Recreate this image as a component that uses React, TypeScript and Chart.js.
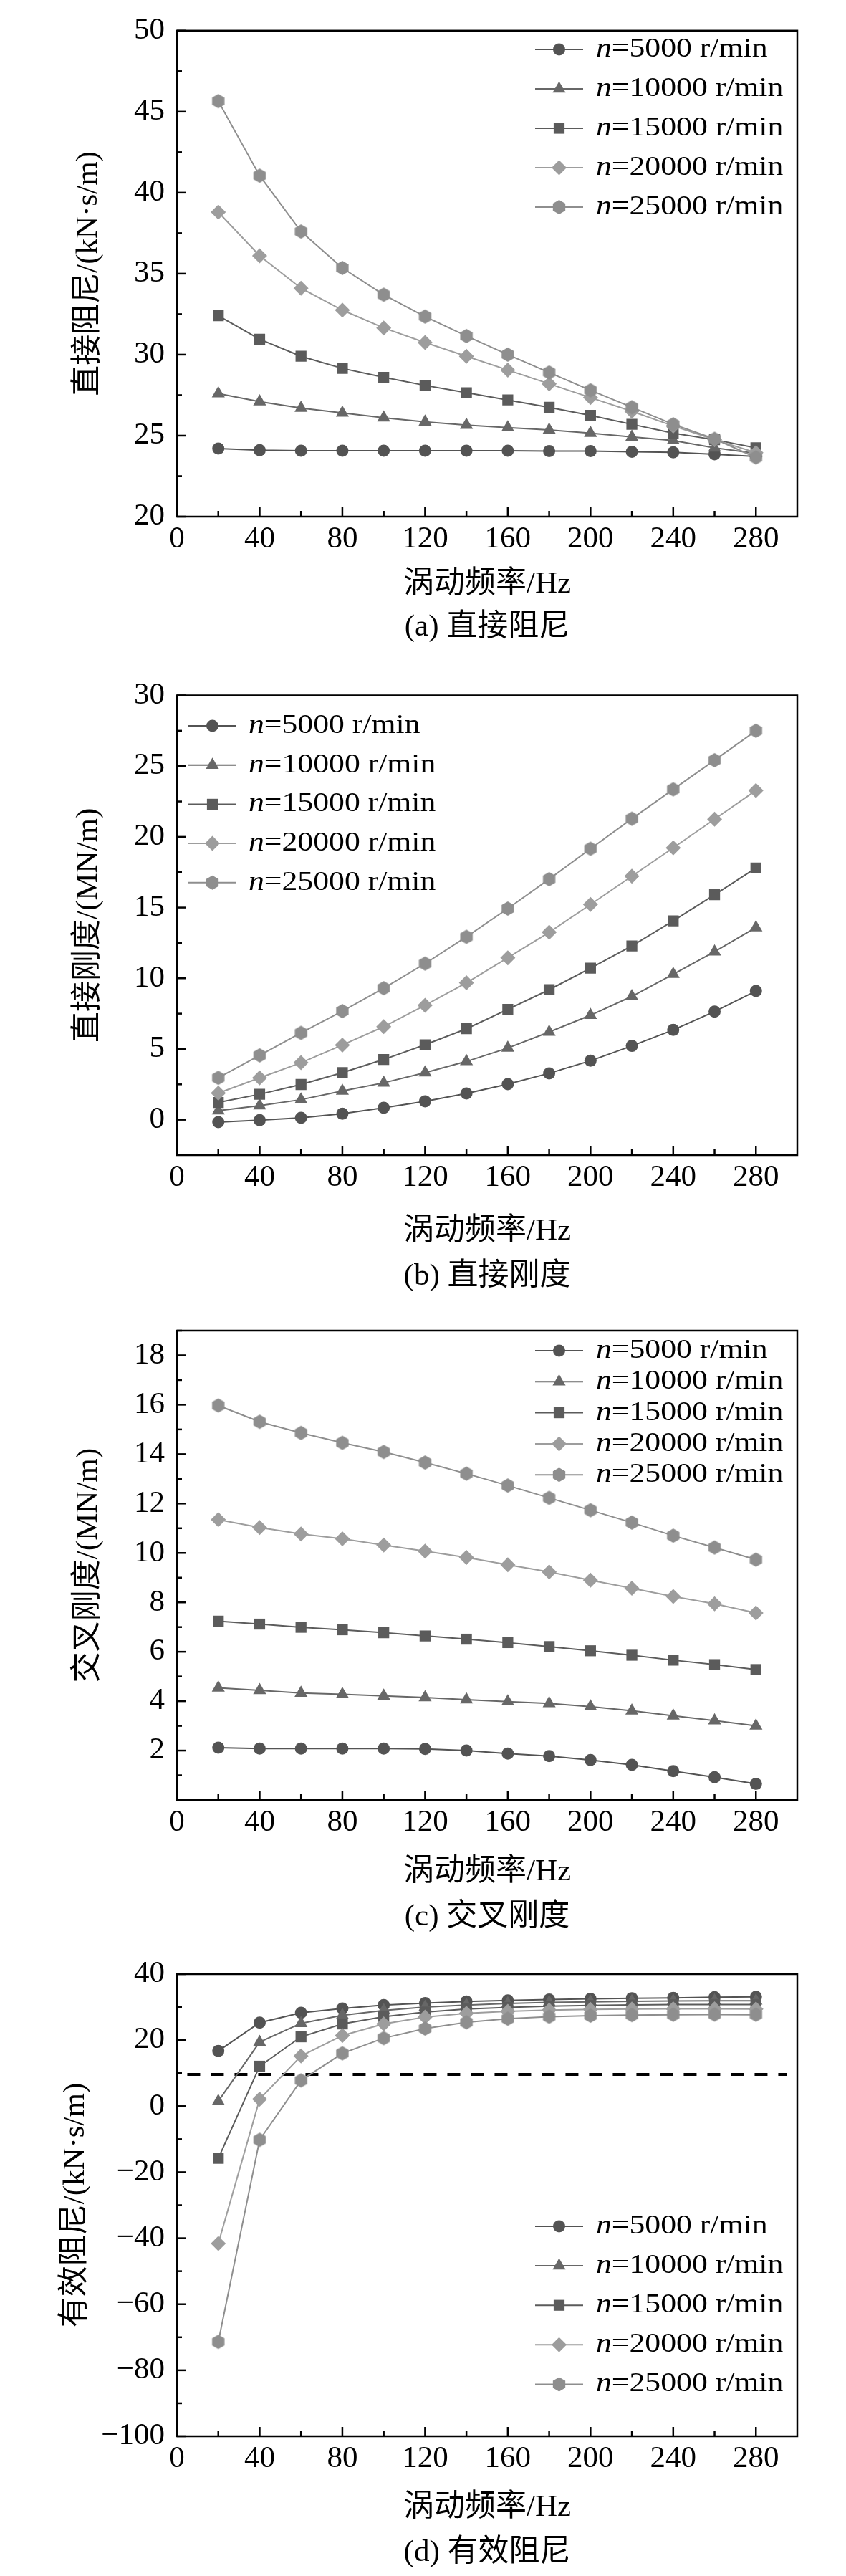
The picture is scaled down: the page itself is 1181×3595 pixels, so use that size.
import React, { useEffect, useRef } from 'react';
import { Chart, registerables } from 'chart.js';

Chart.register(...registerables);

const SERIF = "'Liberation Serif', 'Times New Roman', 'Noto Sans CJK SC', serif";
const PAGE_W = 1181;
const PLOT_LEFT = 247;
const PLOT_RIGHT = 1113;

// x axis: whirl frequency (Hz)
const freqHz = [20, 40, 60, 80, 100, 120, 140, 160, 180, 200, 220, 240, 260, 280];
const xMajor = [0, 40, 80, 120, 160, 200, 240, 280];
const xMinor = [20, 60, 100, 140, 180, 220, 260];

const speedLabels = ['5000', '10000', '15000', '20000', '25000'];
const seriesColors = ['#535353', '#676767', '#5b5b5b', '#9d9d9d', '#8e8e8e'];
const seriesMarkers = ['circle', 'triangle', 'rect', 'rectRot', 'hexagon'];

// (a) direct damping, kN·s/m
const dampA5000 = [24.2, 24.1, 24.07, 24.07, 24.07, 24.07, 24.07, 24.07, 24.05, 24.05, 24.0, 23.97, 23.85, 23.72];
const dampA10000 = [27.6, 27.1, 26.7, 26.4, 26.1, 25.85, 25.65, 25.5, 25.35, 25.15, 24.92, 24.7, 24.25, 23.9];
const dampA15000 = [32.4, 30.95, 29.9, 29.15, 28.6, 28.1, 27.65, 27.2, 26.75, 26.25, 25.7, 25.15, 24.75, 24.25];
const dampA20000 = [38.8, 36.1, 34.1, 32.75, 31.65, 30.75, 29.9, 29.05, 28.2, 27.35, 26.5, 25.6, 24.75, 23.95];
const dampA25000 = [45.65, 41.05, 37.6, 35.35, 33.7, 32.35, 31.15, 30.0, 28.9, 27.8, 26.75, 25.7, 24.8, 23.65];
const yMajorA = [20, 25, 30, 35, 40, 45, 50];
const yMinorA = [22.5, 27.5, 32.5, 37.5, 42.5, 47.5];

// (b) direct stiffness, MN/m
const stiffB5000 = [-0.17, -0.03, 0.14, 0.43, 0.84, 1.3, 1.86, 2.52, 3.28, 4.17, 5.22, 6.35, 7.65, 9.1];
const stiffB10000 = [0.64, 0.99, 1.42, 2.03, 2.61, 3.33, 4.12, 5.07, 6.2, 7.39, 8.72, 10.29, 11.88, 13.59];
const stiffB15000 = [1.22, 1.8, 2.49, 3.33, 4.26, 5.3, 6.43, 7.8, 9.19, 10.72, 12.29, 14.06, 15.91, 17.8];
const stiffB20000 = [1.88, 2.96, 4.03, 5.28, 6.58, 8.09, 9.68, 11.45, 13.25, 15.22, 17.22, 19.22, 21.25, 23.28];
const stiffB25000 = [2.96, 4.55, 6.14, 7.68, 9.3, 11.04, 12.93, 14.93, 17.01, 19.16, 21.28, 23.36, 25.42, 27.5];
const yMajorB = [0, 5, 10, 15, 20, 25, 30];
const yMinorB = [2.5, 7.5, 12.5, 17.5, 22.5, 27.5];

// (c) cross stiffness, MN/m
const crossC5000 = [2.12, 2.08, 2.08, 2.08, 2.08, 2.07, 2.0, 1.88, 1.78, 1.62, 1.42, 1.17, 0.92, 0.65];
const crossC10000 = [4.54, 4.44, 4.33, 4.28, 4.21, 4.15, 4.06, 3.98, 3.91, 3.78, 3.61, 3.41, 3.21, 3.0];
const crossC15000 = [7.24, 7.12, 6.99, 6.89, 6.77, 6.64, 6.51, 6.37, 6.21, 6.04, 5.86, 5.66, 5.48, 5.28];
const crossC20000 = [11.35, 11.03, 10.77, 10.57, 10.32, 10.07, 9.82, 9.52, 9.23, 8.9, 8.57, 8.24, 7.94, 7.57];
const crossC25000 = [15.97, 15.31, 14.86, 14.46, 14.09, 13.66, 13.21, 12.73, 12.23, 11.73, 11.23, 10.7, 10.22, 9.73];
const yMajorC = [2, 4, 6, 8, 10, 12, 14, 16, 18];
const yMinorC = [1, 3, 5, 7, 9, 11, 13, 15, 17, 19];

// (d) effective damping, kN·s/m
const effD5000 = [16.7, 25.3, 28.3, 29.6, 30.6, 31.2, 31.7, 32.0, 32.3, 32.5, 32.7, 32.8, 33.0, 33.1];
const effD10000 = [1.5, 19.4, 25.1, 27.5, 29.0, 30.0, 30.6, 31.1, 31.4, 31.6, 31.75, 31.85, 31.9, 31.9];
const effD15000 = [-15.8, 12.1, 21.0, 24.9, 27.1, 28.5, 29.4, 29.9, 30.3, 30.5, 30.65, 30.75, 30.8, 30.8];
const effD20000 = [-41.6, 2.1, 15.2, 21.4, 24.9, 27.0, 28.1, 28.7, 29.1, 29.3, 29.4, 29.45, 29.45, 29.4];
const effD25000 = [-71.4, -10.2, 7.8, 16.0, 20.6, 23.5, 25.4, 26.5, 27.1, 27.4, 27.6, 27.7, 27.75, 27.7];
const yMajorD = [-100, -80, -60, -40, -20, 0, 20, 40];
const yMinorD = [-90, -70, -50, -30, -10, 10, 30];
const refLineX = [5, 295];
const refLineY = 9.6;

function makeHexagon(color: string, r: number) {
  const c = document.createElement('canvas');
  const s = Math.ceil(r * 2 + 2);
  c.width = s;
  c.height = s;
  const g = c.getContext('2d')!;
  g.fillStyle = color;
  g.beginPath();
  for (let i = 0; i < 6; i++) {
    const a = Math.PI / 2 + (i * Math.PI) / 3;
    const px = s / 2 + r * Math.cos(a);
    const py = s / 2 - r * Math.sin(a);
    if (i === 0) g.moveTo(px, py);
    else g.lineTo(px, py);
  }
  g.closePath();
  g.fill();
  return c;
}

// legend symbol, same shapes as the plotted points
function drawMarker(ctx: CanvasRenderingContext2D, kind: string, x: number, y: number, color: string) {
  ctx.fillStyle = color;
  ctx.beginPath();
  if (kind === 'circle') {
    ctx.arc(x, y, 8.5, 0, Math.PI * 2);
  } else if (kind === 'triangle') {
    const r = 10.5;
    ctx.moveTo(x, y - r);
    ctx.lineTo(x + r * 0.866, y + r / 2);
    ctx.lineTo(x - r * 0.866, y + r / 2);
    ctx.closePath();
  } else if (kind === 'rect') {
    ctx.rect(x - 7.6, y - 7.6, 15.2, 15.2);
  } else if (kind === 'rectRot') {
    const r = 10.5;
    ctx.moveTo(x - r, y);
    ctx.lineTo(x, y - r);
    ctx.lineTo(x + r, y);
    ctx.lineTo(x, y + r);
    ctx.closePath();
  } else {
    const r = 10;
    for (let i = 0; i < 6; i++) {
      const a = Math.PI / 2 + (i * Math.PI) / 3;
      const px = x + r * Math.cos(a);
      const py = y - r * Math.sin(a);
      if (i === 0) ctx.moveTo(px, py);
      else ctx.lineTo(px, py);
    }
    ctx.closePath();
  }
  ctx.fill();
}

const pointRadii: Record<string, number> = { circle: 8.5, triangle: 10.5, rect: 10.8, rectRot: 10.5, hexagon: 10 };

interface PanelProps {
  top: number;
  height: number;
  plotTop: number;
  plotBottom: number;
  yMin: number;
  yMax: number;
  yMajor: number[];
  yMinor: number[];
  series: number[][];
  legendLineX: [number, number];
  legendTextX: number;
  legendY: number;
  legendStep: number;
  yTitle: string;
  yTitleX: number;
  xTitleY: number;
  caption: string;
  captionY: number;
  withRefLine?: boolean;
}

const Panel: React.FC<PanelProps> = (p) => {
  const chartRef = useRef<HTMLCanvasElement | null>(null);
  const chartInstance = useRef<Chart | null>(null);

  useEffect(() => {
    if (!chartRef.current) return;
    if (chartInstance.current) chartInstance.current.destroy();
    const ctx = chartRef.current.getContext('2d');
    if (!ctx) return;

    const datasets: any[] = p.series.map((vals, i) => {
      const kind = seriesMarkers[i];
      return {
        label: `n=${speedLabels[i]} r/min`,
        data: vals.map((v, j) => ({ x: freqHz[j], y: v })),
        borderColor: seriesColors[i],
        backgroundColor: seriesColors[i],
        borderWidth: 2,
        pointStyle: kind === 'hexagon' ? makeHexagon(seriesColors[i], 10) : kind,
        pointRadius: pointRadii[kind],
        pointBorderWidth: 0,
        pointBackgroundColor: seriesColors[i],
        tension: 0,
        order: 5 - i,
      };
    });
    if (p.withRefLine) {
      datasets.push({
        label: 'ref',
        data: refLineX.map((x) => ({ x, y: refLineY })),
        borderColor: '#000',
        borderWidth: 4,
        borderDash: [18, 15],
        pointRadius: 0,
        order: 10,
      });
    }

    const decor = {
      id: 'decor',
      afterDraw(chart: any) {
        const c: CanvasRenderingContext2D = chart.ctx;
        const xs = chart.scales.x;
        const ys = chart.scales.y;
        const { left, right, top, bottom } = chart.chartArea;
        c.save();
        c.strokeStyle = '#000';
        c.lineWidth = 2.5;
        c.strokeRect(left, top, right - left, bottom - top);
        const tick = (x1: number, y1: number, x2: number, y2: number) => {
          c.beginPath();
          c.moveTo(x1, y1);
          c.lineTo(x2, y2);
          c.stroke();
        };
        xMajor.forEach((v) => { const px = xs.getPixelForValue(v); tick(px, bottom, px, bottom - 13); });
        xMinor.forEach((v) => { const px = xs.getPixelForValue(v); tick(px, bottom, px, bottom - 8); });
        p.yMajor.forEach((v) => { const py = ys.getPixelForValue(v); tick(left, py, left + 12, py); });
        p.yMinor.forEach((v) => { const py = ys.getPixelForValue(v); tick(left, py, left + 7, py); });

        // legend
        p.series.forEach((_, i) => {
          const y = p.legendY + i * p.legendStep;
          c.strokeStyle = seriesColors[i];
          c.lineWidth = 2;
          tick(p.legendLineX[0], y, p.legendLineX[1], y);
          drawMarker(c, seriesMarkers[i], (p.legendLineX[0] + p.legendLineX[1]) / 2, y, seriesColors[i]);
          c.save();
          c.translate(p.legendTextX, y);
          c.scale(1.15, 1);
          c.fillStyle = '#000';
          c.textBaseline = 'middle';
          c.textAlign = 'left';
          c.font = `italic 38px ${SERIF}`;
          c.fillText('n', 0, 0);
          const w = c.measureText('n').width;
          c.font = `38px ${SERIF}`;
          c.fillText(`=${speedLabels[i]} r/min`, w, 0);
          c.restore();
        });

        // titles and caption
        c.fillStyle = '#000';
        c.textAlign = 'center';
        c.textBaseline = 'middle';
        c.font = `43px ${SERIF}`;
        const midX = (left + right) / 2;
        c.fillText('涡动频率/Hz', midX, p.xTitleY);
        c.fillText(p.caption, midX, p.captionY);
        c.save();
        c.translate(p.yTitleX, (top + bottom) / 2);
        c.rotate(-Math.PI / 2);
        c.fillText(p.yTitle, 0, 0);
        c.restore();
        c.restore();
      },
    };

    chartInstance.current = new Chart(ctx, {
      type: 'line',
      data: { datasets },
      options: {
        responsive: false,
        animation: false,
        devicePixelRatio: 1,
        layout: { padding: { top: p.plotTop, left: 0, right: PAGE_W - PLOT_RIGHT, bottom: 0 } },
        plugins: { legend: { display: false }, tooltip: { enabled: false } },
        scales: {
          x: {
            type: 'linear',
            min: 0,
            max: 300,
            grid: { display: false, drawTicks: false },
            border: { display: false },
            afterBuildTicks: (scale: any) => { scale.ticks = xMajor.map((v) => ({ value: v })); },
            afterFit: (scale: any) => { scale.height = p.height - p.plotBottom; },
            ticks: {
              padding: 6,
              color: '#000',
              font: { family: SERIF, size: 43 },
              callback: (v: any) => String(v),
              maxRotation: 0,
            },
          },
          y: {
            type: 'linear',
            min: p.yMin,
            max: p.yMax,
            grid: { display: false, drawTicks: false },
            border: { display: false },
            afterBuildTicks: (scale: any) => { scale.ticks = p.yMajor.map((v) => ({ value: v })); },
            afterFit: (scale: any) => { scale.width = PLOT_LEFT; },
            ticks: {
              padding: 17,
              color: '#000',
              font: { family: SERIF, size: 43 },
              callback: (v: any) => String(v).replace('-', '\u2212'),
            },
          },
        },
      },
      plugins: [decor],
    });

    return () => {
      if (chartInstance.current) {
        chartInstance.current.destroy();
        chartInstance.current = null;
      }
    };
  }, []);

  return (
    <canvas
      ref={chartRef}
      width={PAGE_W}
      height={p.height}
      style={{ position: 'absolute', left: 0, top: p.top, width: PAGE_W, height: p.height }}
    />
  );
};

export default function App() {
  useEffect(() => {
    document.body.style.margin = '0';
    document.body.style.background = '#fff';
  }, []);

  return (
    <div style={{ position: 'relative', width: PAGE_W, height: 3595, background: '#fff' }}>
      <Panel
        top={0}
        height={910}
        plotTop={28}
        plotBottom={721}
        yMin={20}
        yMax={50}
        yMajor={yMajorA}
        yMinor={yMinorA}
        series={[dampA5000, dampA10000, dampA15000, dampA20000, dampA25000]}
        legendLineX={[747, 814]}
        legendTextX={832}
        legendY={69}
        legendStep={55}
        yTitle="直接阻尼/(kN·s/m)"
        yTitleX={124}
        xTitleY={816}
        caption="(a) 直接阻尼"
        captionY={876}
      />
      <Panel
        top={910}
        height={900}
        plotTop={60.5}
        plotBottom={702}
        yMin={-2.5}
        yMax={30}
        yMajor={yMajorB}
        yMinor={yMinorB}
        series={[stiffB5000, stiffB10000, stiffB15000, stiffB20000, stiffB25000]}
        legendLineX={[263, 330]}
        legendTextX={347}
        legendY={103}
        legendStep={54.7}
        yTitle="直接刚度/(MN/m)"
        yTitleX={124}
        xTitleY={809}
        caption="(b) 直接刚度"
        captionY={872}
      />
      <Panel
        top={1810}
        height={900}
        plotTop={47}
        plotBottom={702}
        yMin={0}
        yMax={19}
        yMajor={yMajorC}
        yMinor={yMinorC}
        series={[crossC5000, crossC10000, crossC15000, crossC20000, crossC25000]}
        legendLineX={[747, 814]}
        legendTextX={832}
        legendY={75}
        legendStep={43.3}
        yTitle="交叉刚度/(MN/m)"
        yTitleX={124}
        xTitleY={803}
        caption="(c) 交叉刚度"
        captionY={866}
      />
      <Panel
        top={2710}
        height={885}
        plotTop={45}
        plotBottom={690}
        yMin={-100}
        yMax={40}
        yMajor={yMajorD}
        yMinor={yMinorD}
        series={[effD5000, effD10000, effD15000, effD20000, effD25000]}
        legendLineX={[747, 814]}
        legendTextX={832}
        legendY={397}
        legendStep={55.1}
        yTitle="有效阻尼/(kN·s/m)"
        yTitleX={106}
        xTitleY={790}
        caption="(d) 有效阻尼"
        captionY={853}
        withRefLine
      />
    </div>
  );
}
